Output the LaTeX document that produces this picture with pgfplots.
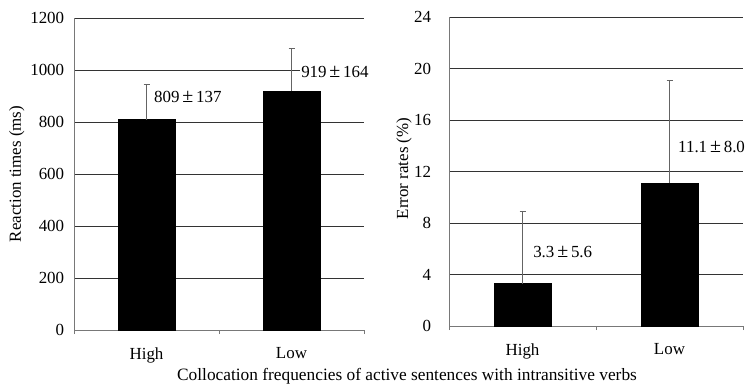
\documentclass[border=0pt]{standalone}
\usepackage{fontspec}
\setmainfont{Liberation Serif}
\usepackage{pgfplots}
\pgfplotsset{compat=1.18}
\definecolor{axgray}{RGB}{120,120,120}
\definecolor{errgray}{RGB}{100,100,100}
\newcommand{\fs}{\fontsize{17}{20}\selectfont}
\newcommand{\pmw}{\,{\fontsize{20}{20}\selectfont ±}\,}
\pgfplotsset{
 myax/.style={
  scale only axis, anchor=south west,
  xmin=0, xmax=2, ymin=0,
  axis x line*=bottom, axis y line*=left,
  axis line style={axgray, line width=0.9bp, -},
  xtick={0.5,1.5}, xticklabels={High,Low},
  minor xtick={0,1,2},
  major tick length=0pt, minor tick length=4bp, tick align=inside,
  minor tick style={axgray, line width=0.9bp},
  ymajorgrids, grid style={black!80, line width=0.9bp},
  tick label style={font=\fs},
  label style={font=\fs},
  xticklabel style={yshift=-14bp},
  /pgf/number format/assume math mode=true,
  /pgf/number format/1000 sep={},
  ybar, bar width=57bp,
  clip=false,
 },
 mybar/.style={fill=black, draw=black,
   error bars/.cd, y dir=plus, y explicit,
   error bar style={errgray, line width=0.9bp},
   error mark options={rotate=90, errgray, mark size=3bp, line width=0.9bp}},
}
\begin{document}
\begin{tikzpicture}
\path[use as bounding box] (0,0) rectangle (747bp,388bp);
\begin{axis}[myax,
  at={(74bp,58bp)}, width=290bp, height=312bp,
  ymax=1200, ytick={0,200,...,1200},
  yticklabel style={xshift=-6.3bp},
  ylabel={Reaction times (ms)},
  ylabel style={at={(axis description cs:-0.197,0.5)}, anchor=center, rotate=0},
]
\addplot+[mybar] coordinates {(0.5,809) +- (0,137) (1.5,919) +- (0,164)};
\node[anchor=west, inner sep=1bp, font=\fs] at (axis cs:0.545,896) {809\pmw137};
\node[anchor=west, fill=white, inner sep=1bp, font=\fs] at (axis cs:1.559,992) {919\pmw164};
\end{axis}
\begin{axis}[myax,
  at={(449bp,62bp)}, width=294bp, height=309bp,
  ymax=24, ytick={0,4,...,24},
  yticklabel style={xshift=-14.3bp},
  ylabel={Error rates (\%)},
  ylabel style={at={(axis description cs:-0.153,0.51)}, anchor=center, rotate=0},
]
\addplot+[mybar] coordinates {(0.5,3.3) +- (0,5.6) (1.5,11.1) +- (0,8.0)};
\node[anchor=west, inner sep=1bp, font=\fs] at (axis cs:0.565,5.75) {3.3\pmw5.6};
\node[anchor=west, inner sep=1bp, font=\fs] at (axis cs:1.551,13.9) {11.1\pmw8.0};
\end{axis}
\node[font=\fontsize{17.4}{20}\selectfont] at (407bp,12bp) {Collocation frequencies of active sentences with intransitive verbs};
\end{tikzpicture}
\end{document}
